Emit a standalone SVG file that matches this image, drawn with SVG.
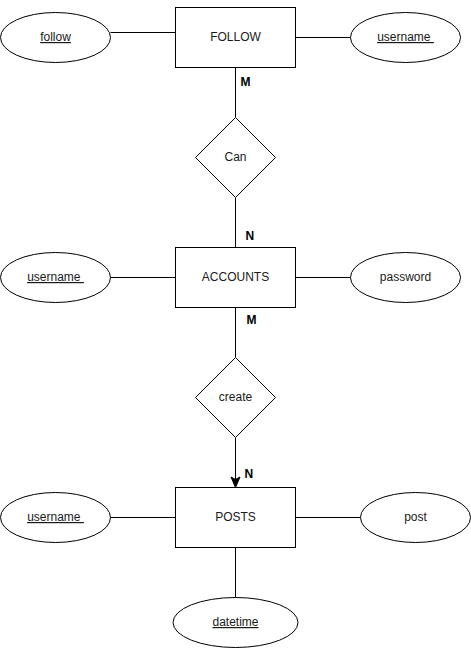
<svg xmlns="http://www.w3.org/2000/svg" width="471" height="648" viewBox="0 0 471 648">
<style>
.s{fill:#fff;stroke:#000;stroke-width:1}
.t{font-family:"Liberation Sans",Arial,sans-serif;font-size:12px;fill:#1a1a1a;text-anchor:middle}
.u{text-decoration:underline}
.b{font-family:"Liberation Sans",Arial,sans-serif;font-size:12px;font-weight:bold;fill:#000}
.c{fill:none;stroke:#000;stroke-width:1}
</style>
<rect width="471" height="648" fill="#fff"/>
<g id="connectors">
<path class="c" d="M110.5,32.5H175.5"/>
<path class="c" d="M295.5,37.5H350.5"/>
<path class="c" d="M235.5,67.5V117.5"/>
<path class="c" d="M235.5,197.5V247.5"/>
<path class="c" d="M110.5,277.5H175.5"/>
<path class="c" d="M295.5,277.5H350.5"/>
<path class="c" d="M235.5,307.5V357.5"/>
<path class="c" d="M235.5,437.5V480"/>
<path d="M235.5,487.5L231,477L235.5,479.5L240,477Z" fill="#000" stroke="#000" stroke-width="1"/>
<path class="c" d="M110.5,517.5H175.5"/>
<path class="c" d="M295.5,517.5H360.5"/>
<path class="c" d="M235.5,547.5V597.5"/>
<text class="b" x="240.5" y="86">M</text>
<text class="b" x="245.5" y="240">N</text>
<text class="b" x="246.5" y="324">M</text>
<text class="b" x="244.5" y="478">N</text>
</g>
<g id="follow-entity"><rect class="s" x="175.5" y="7.5" width="120" height="60"/><text class="t" x="235.5" y="41">FOLLOW</text></g>
<g id="attr-follow"><ellipse class="s" cx="55.5" cy="37.5" rx="55" ry="25"/><text class="t u" x="55.5" y="41">follow</text></g>
<g id="attr-follow-username"><ellipse class="s" cx="405.5" cy="37.5" rx="55" ry="25"/><text class="t u" x="405.5" y="41" xml:space="preserve">username&#160;</text></g>
<g id="rel-can"><path class="s" d="M235.5,117.5L275.5,157.5L235.5,197.5L195.5,157.5Z"/><text class="t" x="235.5" y="161">Can</text></g>
<g id="accounts-entity"><rect class="s" x="175.5" y="247.5" width="120" height="60"/><text class="t" x="235.5" y="281">ACCOUNTS</text></g>
<g id="attr-accounts-username"><ellipse class="s" cx="55.5" cy="277.5" rx="55" ry="25"/><text class="t u" x="55.5" y="281" xml:space="preserve">username&#160;</text></g>
<g id="attr-password"><ellipse class="s" cx="405.5" cy="277.5" rx="55" ry="25"/><text class="t" x="405.5" y="281">password</text></g>
<g id="rel-create"><path class="s" d="M235.5,357.5L275.5,397.5L235.5,437.5L195.5,397.5Z"/><text class="t" x="235.5" y="401">create</text></g>
<g id="posts-entity"><rect class="s" x="175.5" y="487.5" width="120" height="60"/><text class="t" x="235.5" y="521">POSTS</text></g>
<g id="attr-posts-username"><ellipse class="s" cx="55.5" cy="517.5" rx="55" ry="25"/><text class="t u" x="55.5" y="521" xml:space="preserve">username&#160;</text></g>
<g id="attr-post"><ellipse class="s" cx="415.5" cy="517.5" rx="55" ry="25"/><text class="t" x="415.5" y="521">post</text></g>
<g id="attr-datetime"><ellipse class="s" cx="235.5" cy="622.5" rx="62.5" ry="25"/><text class="t u" x="235.5" y="626">datetime</text></g>
</svg>
